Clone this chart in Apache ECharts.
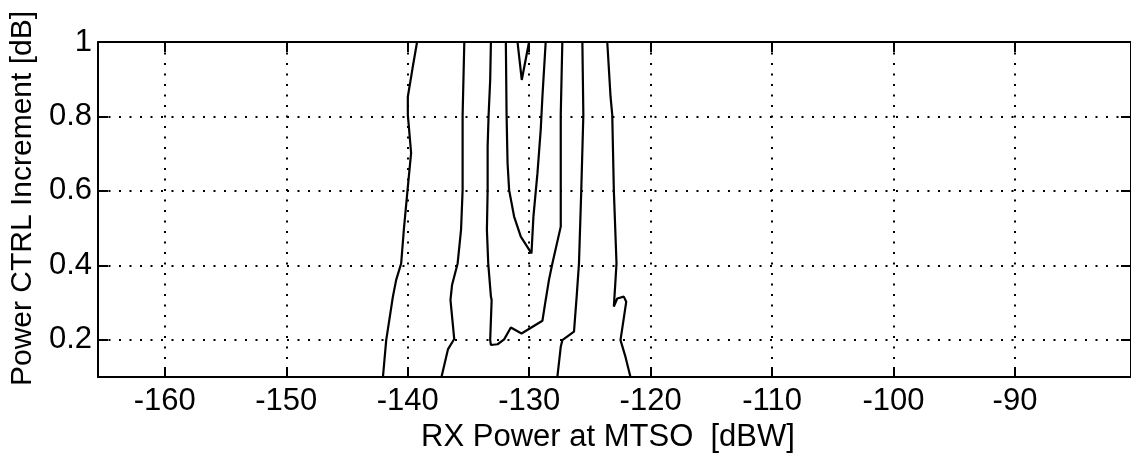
<!DOCTYPE html>
<html>
<head>
<meta charset="utf-8">
<script src="https://cdn.jsdelivr.net/npm/echarts@6/dist/echarts.min.js"></script>
<style>
html,body{margin:0;padding:0;background:#fff;}
#c{width:1131px;height:459px;}
</style>
</head>
<body>
<div id="c"></div>
<script>
// Tick labels
var xTicks = [-160, -150, -140, -130, -120, -110, -100, -90];
var yTicks = [0.2, 0.4, 0.6, 0.8, 1];

// Contour lines [x (dBW), y (dB)]
var lineA = [[-139.23,1.0],[-139.6,0.93],[-139.99,0.853],[-139.99,0.804],[-139.72,0.702],[-139.99,0.611],[-140.32,0.495],[-140.54,0.405],[-140.95,0.361],[-141.22,0.316],[-141.77,0.199],[-142.04,0.1]];
var lineB = [[-135.34,1.0],[-135.48,0.804],[-135.48,0.602],[-135.61,0.495],[-135.89,0.405],[-136.35,0.347],[-136.48,0.307],[-136.17,0.202],[-136.68,0.175],[-137.22,0.1]];
var lineCG = [[-133.15,1.0],[-133.21,0.898],[-133.34,0.804],[-133.42,0.719],[-133.42,0.602],[-133.48,0.495],[-133.37,0.405],[-133.15,0.316],[-133.09,0.307],[-133.21,0.199],[-133.15,0.186],[-132.60,0.188],[-132.06,0.201],[-131.51,0.233],[-130.63,0.217],[-128.91,0.251],[-128.64,0.307],[-128.37,0.361],[-128.09,0.405],[-127.40,0.504],[-127.40,0.602],[-127.40,0.804],[-127.27,1.0]];
var lineEF = [[-131.92,1.0],[-131.86,0.804],[-131.78,0.675],[-131.65,0.602],[-131.24,0.531],[-130.69,0.477],[-129.81,0.432],[-129.65,0.531],[-129.32,0.647],[-129.05,0.764],[-128.91,0.853],[-128.64,1.0]];
var lineV = [[-130.96,1.0],[-130.61,0.898],[-130.01,1.0]];
var lineH = [[-125.62,1.0],[-125.54,0.804],[-125.71,0.602],[-125.90,0.405],[-126.09,0.316],[-126.31,0.222],[-127.27,0.199],[-127.40,0.181],[-127.68,0.1]];
var lineI = [[-123.57,1.0],[-123.30,0.853],[-123.16,0.804],[-123.03,0.602],[-122.81,0.405],[-122.89,0.361],[-123.03,0.289],[-122.75,0.311],[-122.21,0.316],[-122.01,0.302],[-122.48,0.199],[-122.07,0.154],[-121.66,0.1]];

var contours = [lineA, lineB, lineCG, lineEF, lineV, lineH, lineI];

var FONT = "'Liberation Sans', Arial, Helvetica, sans-serif";
var gridLine = {show: true, lineStyle: {color: '#000', width: 2, type: [2, 8.5]}};
var axisLine = {show: true, onZero: false, lineStyle: {color: '#000', width: 2}};
var tick = function (vals) {
  return {show: true, inside: true, length: 10, lineStyle: {color: '#000', width: 2}, customValues: vals};
};

var chart = echarts.init(document.getElementById('c'), null, {renderer: 'canvas'});
chart.setOption({
  animation: false,
  backgroundColor: '#fff',
  grid: {left: 96, top: 42, width: 1036, height: 335, containLabel: false},
  xAxis: [{
    type: 'value', min: -165.5, max: -80.45, splitNumber: 8, minInterval: 10, maxInterval: 10,
    position: 'bottom',
    name: 'RX Power at MTSO  [dBW]', nameLocation: 'middle', nameGap: 33,
    nameTextStyle: {color: '#000', fontSize: 31, fontFamily: FONT, padding: [0, 13, 0, 0]},
    axisLine: axisLine,
    axisTick: tick(xTicks),
    axisLabel: {show: true, color: '#000', fontSize: 31, fontFamily: FONT, margin: 9, customValues: xTicks},
    splitLine: gridLine
  }, {
    type: 'value', min: -165.5, max: -80.45, splitNumber: 8, minInterval: 10, maxInterval: 10,
    position: 'top',
    axisLine: axisLine,
    axisTick: tick(xTicks),
    axisLabel: {show: false},
    splitLine: {show: false}
  }],
  yAxis: [{
    type: 'value', min: 0.1, max: 1, splitNumber: 5, minInterval: 0.2, maxInterval: 0.2,
    position: 'left',
    name: 'Power CTRL Increment [dB]', nameLocation: 'middle', nameGap: 54,
    nameTextStyle: {color: '#000', fontSize: 30, fontFamily: FONT, padding: [0, 0, 0, 22]},
    axisLine: axisLine,
    axisTick: tick(yTicks),
    axisLabel: {show: true, color: '#000', fontSize: 31, fontFamily: FONT, margin: 6, customValues: yTicks},
    splitLine: gridLine
  }, {
    type: 'value', min: 0.1, max: 1, splitNumber: 5, minInterval: 0.2, maxInterval: 0.2,
    position: 'right',
    axisLine: axisLine,
    axisTick: tick(yTicks),
    axisLabel: {show: false},
    splitLine: {show: false}
  }],
  series: contours.map(function (d) {
    return {
      type: 'line', xAxisIndex: 0, yAxisIndex: 0, data: d,
      showSymbol: false, symbol: 'none', smooth: false, clip: true,
      lineStyle: {color: '#000', width: 2.2}, silent: true
    };
  })
});
</script>
</body>
</html>
